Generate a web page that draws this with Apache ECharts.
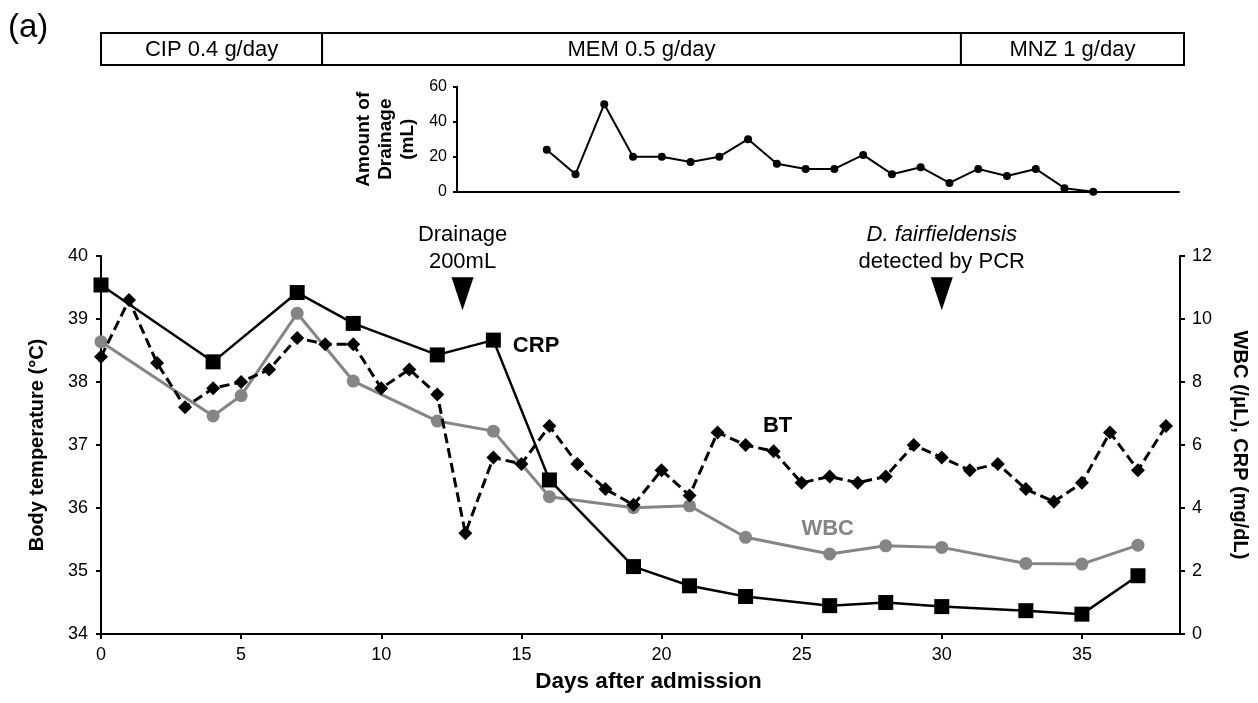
<!DOCTYPE html>
<html><head><meta charset="utf-8">
<script src="https://cdn.jsdelivr.net/npm/echarts@6/dist/echarts.min.js"></script>
<style>html,body{margin:0;padding:0;background:#fff}#c{width:1258px;height:703px}</style>
</head><body><div id="c"></div>
<script>
// ---------- data ----------
const regimenLabels = ['CIP 0.4 g/day', 'MEM 0.5 g/day', 'MNZ 1 g/day'];
const regimenStart = [0, 7.86, 30.57];
const regimenEnd = [7.86, 30.57, 38.5];

const drainDays = [16,17,18,19,20,21,22,23,24,25,26,27,28,29,30,31,32,33,34,35];
const drainValues = [24,10,50,20,20,17,20,30,16,13,13,21,10,14,5,13,9,13,2,0];
const drainTicks = [0,20,40,60];

const btDays = [0,1,2,3,4,5,6,7,8,9,10,11,12,13,14,15,16,17,18,19,20,21,22,23,24,25,26,27,28,29,30,31,32,33,34,35,36,37,38];
const btValues = [38.4,39.3,38.3,37.6,37.9,38.0,38.2,38.7,38.6,38.6,37.9,38.2,37.8,35.6,36.8,36.7,37.3,36.7,36.3,36.05,36.6,36.2,37.2,37.0,36.9,36.4,36.5,36.4,36.5,37.0,36.8,36.6,36.7,36.3,36.1,36.4,37.2,36.6,37.3];

const crpDays = [0,4,7,9,12,14,16,19,21,23,26,28,30,33,35,37];
const crpValues = [11.08,8.64,10.84,9.86,8.86,9.33,4.89,2.14,1.53,1.19,0.90,1.0,0.87,0.74,0.63,1.85];

const wbcDays = [0,4,5,7,9,12,14,16,19,21,23,26,28,30,33,35,37];
const wbcValues = [9.28,6.92,7.57,10.18,8.03,6.76,6.44,4.36,4.01,4.07,3.07,2.54,2.80,2.75,2.24,2.22,2.82];

const eventDays = [12.9, 30.0];
const eventLevel = [39.4, 39.4];
const eventTexts = [['Drainage', '200mL'], ['D. fairfieldensis', 'detected by PCR']];

const xTicks = [0,5,10,15,20,25,30,35];
const btTicks = [34,35,36,37,38,39,40];
const rightTicks = [0,2,4,6,8,10,12];

const seriesLabels = {CRP: 14, BT: 24, WBC: 26}; // day at which each series name is written

// ---------- chart ----------
const FF = '"Liberation Sans", Arial, sans-serif';
const GREY = '#858585';
const chart = echarts.init(document.getElementById('c'), null, {renderer: 'canvas'});

function pts(days, vals) { return days.map((d, i) => [d, vals[i]]); }
function withLabel(data, day, label) {
  return data.map(p => p[0] === day ? {value: p, label: Object.assign({show: true}, label)} : p);
}

const crpData = withLabel(pts(crpDays, crpValues), seriesLabels.CRP,
  {position: 'right', distance: 12, offset: [0, 6], formatter: 'CRP', fontSize: 22, fontWeight: 'bold', color: '#000', fontFamily: FF});
const btData = withLabel(pts(btDays, btValues), seriesLabels.BT,
  {position: 'top', distance: 6, offset: [4, -1], formatter: 'BT', fontSize: 22, fontWeight: 'bold', color: '#000', fontFamily: FF});
const wbcData = withLabel(pts(wbcDays, wbcValues), seriesLabels.WBC,
  {position: 'top', distance: 8, offset: [-2, 0], formatter: 'WBC', fontSize: 22, fontWeight: 'bold', color: GREY, fontFamily: FF});

const axisLineStyle = {color: '#000', width: 2};

const option = {
  animation: false,
  backgroundColor: '#fff',
  textStyle: {fontFamily: FF},
  graphic: [{type: 'text', left: 8, top: 11, style: {text: '(a)', font: '33px ' + FF, fill: '#000'}}],
  grid: [
    {left: 101, right: 74, top: 256, bottom: 69},
    {left: 457, right: 79, top: 86.7, bottom: 511.3},
    {left: 101, right: 74, top: 33, height: 32}
  ],
  xAxis: [
    {gridIndex: 0, type: 'value', min: 0, max: 38.5, interval: 5,
     name: 'Days after admission', nameLocation: 'middle', nameGap: 36,
     nameTextStyle: {fontSize: 22.5, fontWeight: 'bold', color: '#000', padding: [0, 0, 0, 16]},
     axisLine: {show: true, lineStyle: axisLineStyle},
     axisTick: {show: true, length: 5, lineStyle: axisLineStyle, customValues: xTicks},
     axisLabel: {color: '#000', fontSize: 18, margin: 12, customValues: xTicks},
     splitLine: {show: false}},
    {gridIndex: 1, type: 'value', min: 12.88, max: 37.98,
     axisLine: {show: true, onZero: false, lineStyle: axisLineStyle},
     axisTick: {show: false}, axisLabel: {show: false}, splitLine: {show: false}},
    {gridIndex: 2, type: 'value', min: 0, max: 38.5, show: false}
  ],
  yAxis: [
    {gridIndex: 0, type: 'value', min: 34, max: 40, interval: 1, position: 'left',
     name: 'Body temperature (°C)', nameLocation: 'middle', nameRotate: 90, nameGap: 54,
     nameTextStyle: {fontSize: 20, fontWeight: 'bold', color: '#000'},
     axisLine: {show: true, lineStyle: axisLineStyle},
     axisTick: {show: true, length: 5, lineStyle: axisLineStyle, customValues: btTicks},
     axisLabel: {color: '#000', fontSize: 18, margin: 13, customValues: btTicks},
     splitLine: {show: false}},
    {gridIndex: 0, type: 'value', min: 0, max: 12, interval: 2, position: 'right',
     name: 'WBC (/μL), CRP (mg/dL)', nameLocation: 'middle', nameRotate: -90, nameGap: 50,
     nameTextStyle: {fontSize: 20, fontWeight: 'bold', color: '#000'},
     axisLine: {show: true, lineStyle: axisLineStyle},
     axisTick: {show: true, length: 5, lineStyle: axisLineStyle, customValues: rightTicks},
     axisLabel: {color: '#000', fontSize: 18, margin: 12, customValues: rightTicks},
     splitLine: {show: false}},
    {gridIndex: 1, type: 'value', min: 0, max: 60, interval: 20,
     name: 'Amount of\nDrainage\n(mL)', nameLocation: 'middle', nameRotate: 90, nameGap: 36,
     nameTextStyle: {fontSize: 19, fontWeight: 'bold', color: '#000', lineHeight: 22, align: 'center'},
     axisLine: {show: true, lineStyle: axisLineStyle},
     axisTick: {show: true, length: 4, lineStyle: axisLineStyle, customValues: drainTicks},
     axisLabel: {color: '#000', fontSize: 16, margin: 10, customValues: drainTicks},
     splitLine: {show: false}},
    {gridIndex: 2, type: 'value', min: 0, max: 1, show: false}
  ],
  series: [
    {type: 'custom', xAxisIndex: 2, yAxisIndex: 3,
     data: regimenStart.map((s, i) => [s, regimenEnd[i]]),
     renderItem: function (params, api) {
       const a = api.coord([api.value(0), 1]);
       const b = api.coord([api.value(1), 0]);
       return {type: 'group', children: [
         {type: 'rect', shape: {x: a[0], y: a[1], width: b[0] - a[0], height: b[1] - a[1]},
          style: {fill: '#fff', stroke: '#000', lineWidth: 2}},
         {type: 'text', style: {text: regimenLabels[params.dataIndex], x: (a[0] + b[0]) / 2, y: (a[1] + b[1]) / 2 + 1,
          align: 'center', verticalAlign: 'middle', fontSize: 22, fontFamily: FF, fill: '#000'}}
       ]};
     }},
    {type: 'line', xAxisIndex: 1, yAxisIndex: 2, data: pts(drainDays, drainValues),
     symbol: 'circle', symbolSize: 8, itemStyle: {color: '#000'}, lineStyle: {color: '#000', width: 2}},
    {type: 'line', xAxisIndex: 0, yAxisIndex: 1, data: wbcData, z: 3,
     symbol: 'circle', symbolSize: 13, itemStyle: {color: GREY}, lineStyle: {color: GREY, width: 3}},
    {type: 'line', xAxisIndex: 0, yAxisIndex: 0, data: btData, z: 4,
     symbol: 'diamond', symbolSize: 14, itemStyle: {color: '#000'}, lineStyle: {color: '#000', width: 3, type: [10, 5]}},
    {type: 'line', xAxisIndex: 0, yAxisIndex: 1, data: crpData, z: 5,
     symbol: 'rect', symbolSize: 15, itemStyle: {color: '#000'}, lineStyle: {color: '#000', width: 2.5}},
    {type: 'scatter', xAxisIndex: 0, yAxisIndex: 0, z: 6,
     data: eventDays.map((d, i) => [d, eventLevel[i]]),
     symbol: 'path://M0,0 L10,0 L5,15 Z', symbolKeepAspect: false, symbolSize: [22, 33],
     itemStyle: {color: '#000', opacity: 1},
     label: {show: true, position: 'top', distance: 2, align: 'center', color: '#000', opacity: 1,
       formatter: function (p) {
         const t = eventTexts[p.dataIndex];
         return (p.dataIndex === 1 ? '{i|' + t[0] + '}' : '{n|' + t[0] + '}') + '\n{n|' + t[1] + '}';
       },
       rich: {n: {fontSize: 22, lineHeight: 27, color: '#000', fontFamily: FF, align: 'center'},
              i: {fontSize: 22, lineHeight: 27, color: '#000', fontFamily: FF, fontStyle: 'italic', align: 'center'}}}}
  ]
};
chart.setOption(option);
</script></body></html>
